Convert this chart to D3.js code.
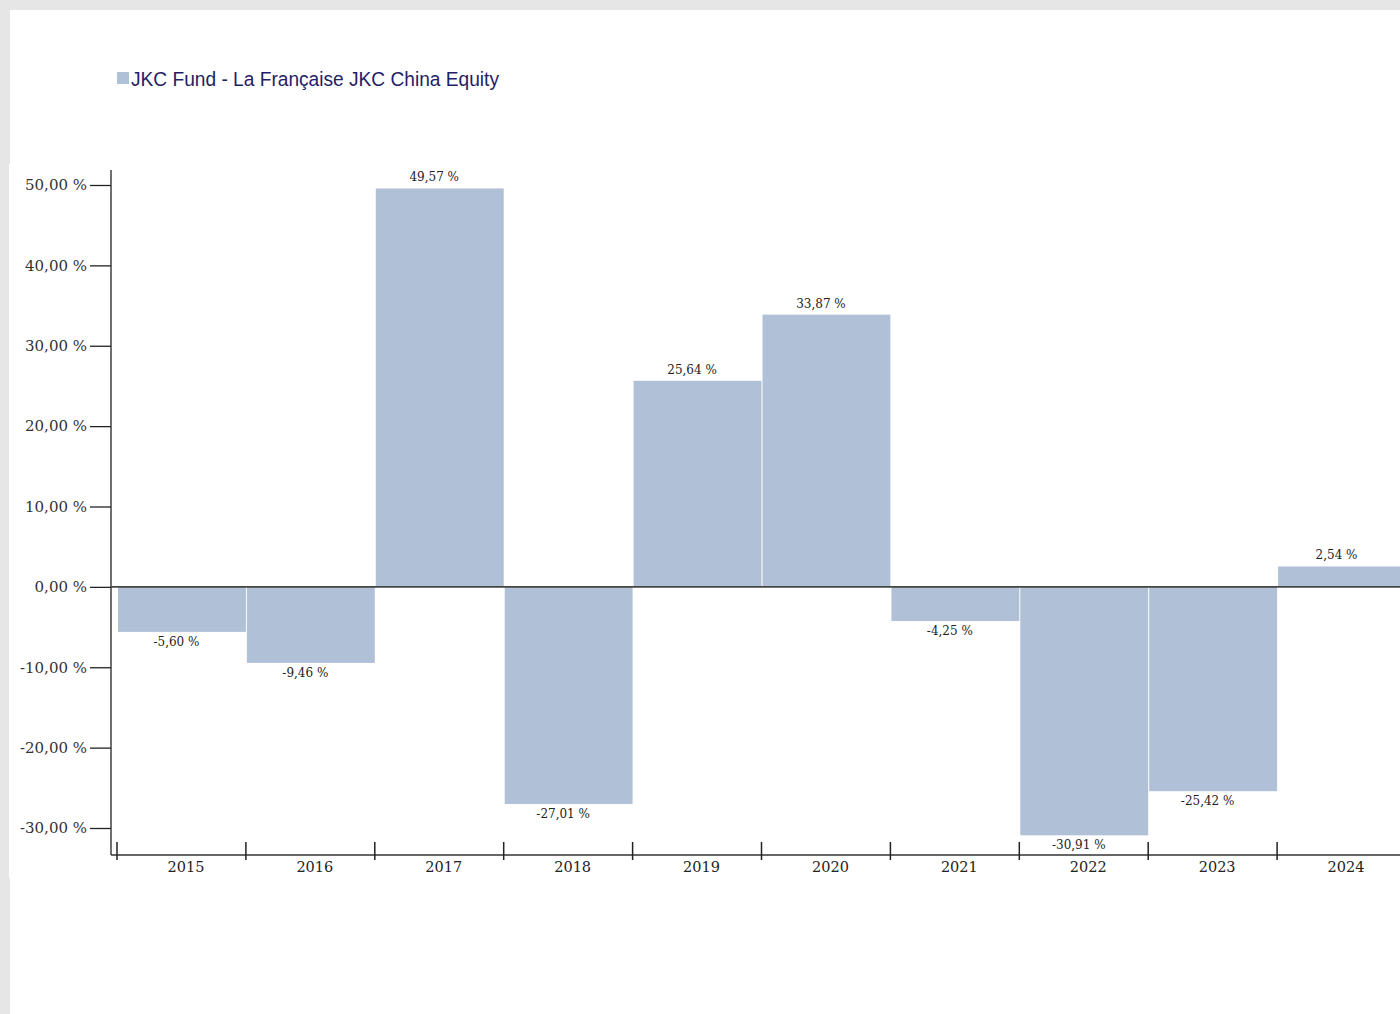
<!DOCTYPE html>
<html>
<head>
<meta charset="utf-8">
<script src="https://cdn.jsdelivr.net/npm/d3@7"></script>
<style>
  html, body { margin: 0; padding: 0; background: #e6e6e6; }
  svg { display: block; }
</style>
</head>
<body>
<svg id="chart" width="1400" height="1014"></svg>
<script>
// data
var years = ["2015", "2016", "2017", "2018", "2019", "2020", "2021", "2022", "2023", "2024"]
var returns = [-5.60, -9.46, 49.57, -27.01, 25.64, 33.87, -4.25, -30.91, -25.42, 2.54]
var yTicks = [50, 40, 30, 20, 10, 0, -10, -20, -30]
var seriesName = "JKC Fund - La Française JKC China Equity"

var barColor = "#b0c1d7"
// french style number, plain hyphen for negatives
var fmt = function (v) { return d3.format(".2f")(v).replace("\u2212", "-").replace(".", ",") + " %" }

var svg = d3.select("#chart")

// page panels
svg.append("rect").attr("x", 10).attr("y", 10).attr("width", 1390).attr("height", 1004).attr("fill", "#fff")
svg.append("rect").attr("x", 9).attr("y", 164).attr("width", 1391).attr("height", 714).attr("fill", "#fff")

// legend
svg.append("rect")
  .attr("x", 117).attr("y", 72).attr("width", 12).attr("height", 12)
  .attr("fill", barColor)
svg.append("text")
  .attr("x", 131).attr("y", 86)
  .attr("font-family", "'Liberation Sans', Arial, sans-serif")
  .attr("font-size", 20.5)
  .attr("textLength", 368)
  .attr("lengthAdjust", "spacingAndGlyphs")
  .attr("fill", "#1f2166")
  .text(seriesName)

// scales
var x = d3.scaleBand()
  .domain(years)
  .range([117, 117 + 128.9 * years.length])
  .padding(0)

var y = d3.scaleLinear()
  .domain([-30, 50])
  .range([828, 185])

var axisLeftX = 111
var axisBottomY = 855

// y axis
var yAxis = svg.append("g")
  .attr("transform", "translate(" + axisLeftX + ",0)")
  .call(d3.axisLeft(y).tickValues(yTicks).tickSize(21).tickPadding(3).tickFormat(fmt))
yAxis.select(".domain").remove()
yAxis.selectAll(".tick line").attr("stroke", "#222").attr("stroke-width", 1.3)
yAxis.selectAll(".tick text")
  .attr("font-family", "'DejaVu Serif', serif")
  .attr("font-size", 15)
  .attr("fill", "#333")

svg.append("line")
  .attr("x1", axisLeftX).attr("x2", axisLeftX)
  .attr("y1", 170).attr("y2", axisBottomY)
  .attr("stroke", "#222").attr("stroke-width", 1.3)

// bars
svg.append("g").selectAll("rect")
  .data(returns)
  .enter().append("rect")
    .attr("x", function (d, i) { return x(years[i]) + 1 })
    .attr("width", x.bandwidth() - 1)
    .attr("y", function (d) { return y(Math.max(0, d)) })
    .attr("height", function (d) { return Math.abs(y(d) - y(0)) })
    .attr("fill", barColor)

// value labels
svg.append("g").selectAll("text")
  .data(returns)
  .enter().append("text")
    .attr("x", function (d, i) { return x(years[i]) + x.bandwidth() / 2 - 5 })
    .attr("y", function (d) { return d >= 0 ? y(d) - 7 : y(d) + 14 })
    .attr("text-anchor", "middle")
    .attr("font-family", "'DejaVu Serif', serif")
    .attr("font-size", 12)
    .attr("fill", "#222")
    .text(fmt)

// zero line
svg.append("line")
  .attr("x1", axisLeftX).attr("x2", 1400)
  .attr("y1", y(0)).attr("y2", y(0))
  .attr("stroke", "#444").attr("stroke-width", 1.8)

// x axis
svg.append("line")
  .attr("x1", axisLeftX).attr("x2", 1400)
  .attr("y1", axisBottomY).attr("y2", axisBottomY)
  .attr("stroke", "#333").attr("stroke-width", 1.5)

svg.append("g").selectAll("line")
  .data(years)
  .enter().append("line")
    .attr("x1", function (d) { return x(d) }).attr("x2", function (d) { return x(d) })
    .attr("y1", axisBottomY - 13).attr("y2", axisBottomY + 5)
    .attr("stroke", "#222").attr("stroke-width", 1.5)

svg.append("g").selectAll("text")
  .data(years)
  .enter().append("text")
    .attr("x", function (d) { return x(d) + x.bandwidth() / 2 + 4.5 })
    .attr("y", 872)
    .attr("text-anchor", "middle")
    .attr("font-family", "'DejaVu Serif', serif")
    .attr("font-size", 14.5)
    .attr("fill", "#222")
    .text(function (d) { return d })
</script>
</body>
</html>
